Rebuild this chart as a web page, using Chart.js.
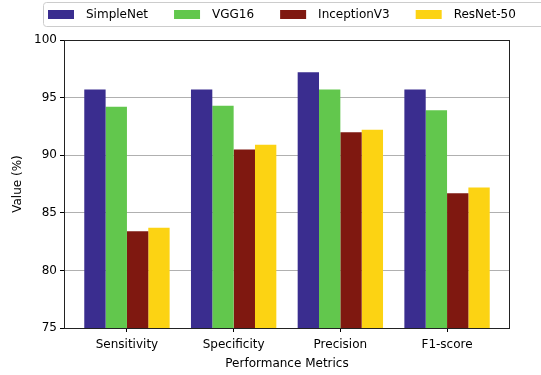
<!DOCTYPE html>
<html><head><meta charset="utf-8">
<script src="https://cdn.jsdelivr.net/npm/chart.js@4/dist/chart.umd.min.js"></script>
<style>html,body{margin:0;padding:0;background:#fff}canvas{display:block}</style>
</head><body>
<canvas id="c" width="541" height="375" style="width:541px;height:375px"></canvas>
<script>
const categories = ['Sensitivity', 'Specificity', 'Precision', 'F1-score'];
const seriesNames = ['SimpleNet', 'VGG16', 'InceptionV3', 'ResNet-50'];
const simpleNet = [95.7, 95.7, 97.2, 95.7];
const vgg16 = [94.2, 94.3, 95.7, 93.9];
const inceptionV3 = [83.4, 90.5, 92.0, 86.7];
const resNet50 = [83.7, 90.9, 92.2, 87.2];
const yTicks = [75, 80, 85, 90, 95, 100];
const colors = ['#3a2d8f', '#62c74d', '#7f1810', '#fcd313'];

const FONT = {family: 'DejaVu Sans', size: 12};
const series = [simpleNet, vgg16, inceptionV3, resNet50];

const framePlugin = {
  id: 'frame',
  afterDatasetsDraw(chart) {
    const {ctx, chartArea: a} = chart;
    ctx.save();
    ctx.strokeStyle = '#222';
    ctx.lineWidth = 1;
    ctx.strokeRect(Math.round(a.left) + 0.5, Math.round(a.top) + 0.5,
      Math.round(a.right - a.left) - 1, Math.round(a.bottom - a.top));
    ctx.restore();
  }
};

const legendPlugin = {
  id: 'boxLegend',
  afterDraw(chart) {
    const ctx = chart.ctx;
    ctx.save();
    ctx.strokeStyle = '#cccccc';
    ctx.lineWidth = 1;
    ctx.beginPath();
    if (ctx.roundRect) ctx.roundRect(43.5, 2.5, 510, 24, 3); else ctx.rect(43.5, 2.5, 510, 24);
    ctx.stroke();
    ctx.font = '12px "DejaVu Sans"';
    ctx.textBaseline = 'middle';
    let x = 48;
    chart.data.datasets.forEach(ds => {
      ctx.fillStyle = ds.backgroundColor;
      ctx.fillRect(x, 10, 26, 9);
      ctx.fillStyle = '#000';
      ctx.fillText(ds.label, x + 38, 14.5);
      x += 38 + ctx.measureText(ds.label).width + 26;
    });
    ctx.restore();
  }
};

new Chart(document.getElementById('c'), {
  type: 'bar',
  data: {
    datasets: series.map((vals, k) => ({
      label: seriesNames[k],
      data: vals.map((v, i) => ({x: i, y: v})),
      backgroundColor: colors[k],
      borderWidth: 0,
      categoryPercentage: 0.8,
      barPercentage: 1.0
    }))
  },
  options: {
    responsive: false,
    animation: false,
    devicePixelRatio: 1,
    layout: {padding: {top: 40, right: 31, bottom: 0, left: 0}},
    plugins: {legend: {display: false}, tooltip: {enabled: false}},
    scales: {
      x: {
        type: 'linear',
        offset: false,
        min: -0.59,
        max: 3.59,
        afterBuildTicks: s => { s.ticks = categories.map((c, i) => ({value: i})); },
        afterFit: s => { s.height = 47; },
        ticks: {
          callback: v => categories[v],
          font: FONT, color: '#000', padding: 6, autoSkip: false, maxRotation: 0
        },
        grid: {drawOnChartArea: false, offset: false, tickLength: 4, tickColor: '#000'},
        border: {display: false},
        title: {display: true, text: 'Performance Metrics', font: FONT, color: '#000', padding: {top: 0, bottom: 4}}
      },
      y: {
        min: 75,
        max: 100,
        afterBuildTicks: s => { s.ticks = yTicks.map(v => ({value: v})); },
        afterFit: s => { s.width = 64; },
        ticks: {font: FONT, color: '#000', padding: 3},
        grid: {color: '#b0b0b0', lineWidth: 1, tickLength: 4, tickColor: '#000'},
        border: {display: false},
        title: {display: true, text: 'Value (%)', font: FONT, color: '#000', padding: {top: 11, bottom: 0}}
      }
    }
  },
  plugins: [framePlugin, legendPlugin]
});
</script>
</body></html>
